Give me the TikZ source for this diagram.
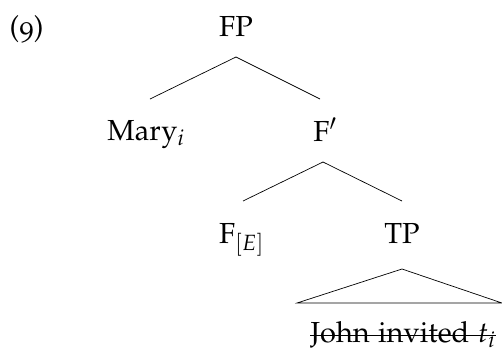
\documentclass[tikz,border=0pt]{standalone}
\usepackage[T1]{fontenc}
\usepackage[osf]{mathpazo}
\begin{document}
\begin{tikzpicture}[x=1pt,y=-1pt,
  lbl/.style={anchor=base,inner sep=0pt,font=\fontsize{29}{35}\selectfont},
  branch/.style={line width=0.7pt},
  strike/.style={line width=0.7pt}]
\useasboundingbox (0,0) rectangle (502,360);
% example number
\node[lbl] (num) at (26.5,36) {(9)};
% tree labels
\node[lbl] (fp)  at (236,36)  {FP};
\node[lbl] (mary) at (146,140) {Mary$_i$};
\node[lbl] (fbar) at (325,141) {F$'$};
\node[lbl] (fe)  at (241.5,243) {F$_{[E]}$};
\node[lbl] (tp)  at (402,243) {TP};
\node[lbl] (john) at (403,342) {John invited $t_i$};
% branch points
\coordinate (fpb) at (236,57);
\coordinate (maryt) at (150,99);
\coordinate (fbart) at (320,99);
\coordinate (fbarb) at (323,162);
\coordinate (fet) at (243,201);
\coordinate (tpt) at (402,201);
\coordinate (tpb) at (402,269);
\coordinate (triL) at (297,303);
\coordinate (triR) at (502,303);
\draw[branch] (maryt) -- (fpb) -- (fbart);
\draw[branch] (fet) -- (fbarb) -- (tpt);
\draw[branch] (triL) -- (tpb) -- (triR) -- cycle;
% deleted material
\draw[strike] ([yshift=6.5pt]john.base west) -- ([yshift=6.5pt]john.base east);
\end{tikzpicture}
\end{document}
